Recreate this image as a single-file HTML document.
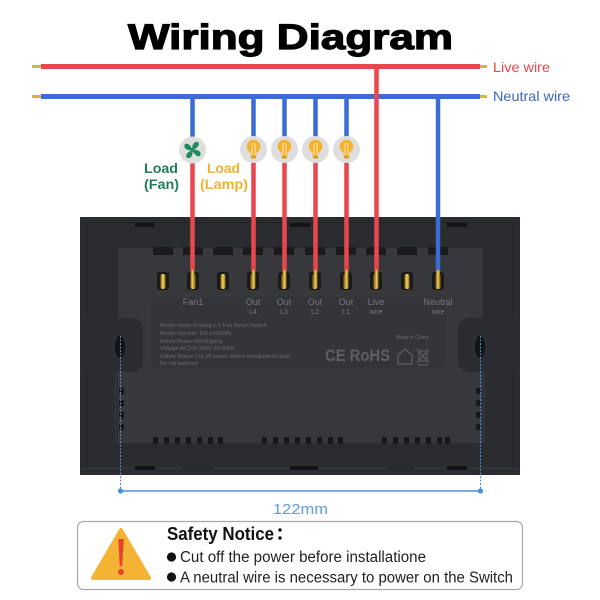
<!DOCTYPE html>
<html><head><meta charset="utf-8"><style>
html,body{margin:0;padding:0;background:#fff;}
svg{display:block;}
text{font-family:"Liberation Sans","Noto Sans CJK SC",sans-serif;}
</style></head><body>
<svg width="600" height="600" viewBox="0 0 600 600" xmlns="http://www.w3.org/2000/svg">
<defs>
<linearGradient id="gold" x1="0" x2="1" y1="0" y2="0">
<stop offset="0" stop-color="#8a6510"/><stop offset="0.5" stop-color="#f3d466"/><stop offset="1" stop-color="#8a6510"/>
</linearGradient>
</defs>
<rect width="600" height="600" fill="#fff"/>

<!-- Title -->
<text x="128" y="49" font-size="35" font-weight="bold" fill="#000" stroke="#000" stroke-width="1.2" textLength="325" lengthAdjust="spacingAndGlyphs">Wiring Diagram</text>

<!-- Switch body -->
<rect x="80" y="217" width="440" height="258" fill="#2b2c30"/>
<rect x="86.5" y="222.5" width="427" height="246" fill="none" stroke="#222326" stroke-width="1"/>
<!-- top notches -->
<rect x="135" y="223" width="19" height="4" fill="#141416"/>
<rect x="290" y="223" width="20" height="4" fill="#141416"/>
<rect x="447" y="223" width="20" height="4" fill="#141416"/>
<!-- inner panel -->
<rect x="118" y="248" width="365" height="195" fill="#37383c"/>
<!-- cutouts around holes -->
<rect x="96" y="318" width="47" height="54" rx="11" fill="#2b2c30"/>
<rect x="458" y="318" width="47" height="54" rx="11" fill="#2b2c30"/>
<rect x="80" y="318" width="38" height="54" fill="#2b2c30"/>
<rect x="483" y="318" width="37" height="54" fill="#2b2c30"/>
<!-- label plate -->
<rect x="149" y="296" width="297" height="73" rx="8" fill="#343539" stroke="#3d3e42" stroke-width="0.6"/>
<!-- top slots -->
<g fill="#1b1b1d">
<rect x="153" y="247" width="20" height="8"/><rect x="183" y="247" width="20" height="8"/>
<rect x="213" y="247" width="20" height="8"/><rect x="243" y="247" width="20" height="8"/>
<rect x="274" y="247" width="20" height="8"/><rect x="305" y="247" width="20" height="8"/>
<rect x="336" y="247" width="20" height="8"/><rect x="366" y="247" width="20" height="8"/>
<rect x="397" y="247" width="20" height="8"/><rect x="428" y="247" width="20" height="8"/>
</g>
<!-- terminals -->
<g>
<rect x="157" y="272" width="12" height="18" rx="3" fill="#1a1a1b"/><rect x="160.5" y="274" width="5" height="15" rx="2" fill="url(#gold)"/>
<rect x="187" y="272" width="12" height="18" rx="3" fill="#1a1a1b"/><rect x="190.5" y="274" width="5" height="15" rx="2" fill="url(#gold)"/>
<rect x="217" y="272" width="12" height="18" rx="3" fill="#1a1a1b"/><rect x="220.5" y="274" width="5" height="15" rx="2" fill="url(#gold)"/>
<rect x="247" y="272" width="12" height="18" rx="3" fill="#1a1a1b"/><rect x="250.5" y="274" width="5" height="15" rx="2" fill="url(#gold)"/>
<rect x="278" y="272" width="12" height="18" rx="3" fill="#1a1a1b"/><rect x="281.5" y="274" width="5" height="15" rx="2" fill="url(#gold)"/>
<rect x="309" y="272" width="12" height="18" rx="3" fill="#1a1a1b"/><rect x="312.5" y="274" width="5" height="15" rx="2" fill="url(#gold)"/>
<rect x="340" y="272" width="12" height="18" rx="3" fill="#1a1a1b"/><rect x="343.5" y="274" width="5" height="15" rx="2" fill="url(#gold)"/>
<rect x="370" y="272" width="12" height="18" rx="3" fill="#1a1a1b"/><rect x="373.5" y="274" width="5" height="15" rx="2" fill="url(#gold)"/>
<rect x="401" y="272" width="12" height="18" rx="3" fill="#1a1a1b"/><rect x="404.5" y="274" width="5" height="15" rx="2" fill="url(#gold)"/>
<rect x="432" y="272" width="12" height="18" rx="3" fill="#1a1a1b"/><rect x="435.5" y="274" width="5" height="15" rx="2" fill="url(#gold)"/>
</g>
<!-- terminal labels -->
<g font-size="9" fill="#76777c" text-anchor="middle">
<text x="193" y="305">Fan1</text>
<text x="253" y="305">Out</text><text x="253" y="314" font-size="7">L4</text>
<text x="284" y="305">Out</text><text x="284" y="314" font-size="7">L3</text>
<text x="315" y="305">Out</text><text x="315" y="314" font-size="7">L2</text>
<text x="346" y="305">Out</text><text x="346" y="314" font-size="7">L1</text>
<text x="376" y="305">Live</text><text x="376" y="314" font-size="7">wire</text>
<text x="438" y="305">Neutral</text><text x="438" y="314" font-size="7">wire</text>
</g>
<!-- spec text -->
<g font-size="5.6" fill="#6a6b70">
<text x="160" y="327">Model Name:4 Gang + 1 Fan Smart Switch</text>
<text x="160" y="335">Model Number: DS-1430WN</text>
<text x="160" y="343">Rated Power:600W/gang</text>
<text x="160" y="350">Voltage:AC100-250V 50-60Hz</text>
<text x="160" y="358">Safety Notice:Cut off power before installation/Install</text>
<text x="160" y="365">Do not wet/sed</text>
<text x="396" y="339" font-size="5">Made in China</text>
</g>
<text x="325" y="361" font-size="17" font-weight="bold" fill="#5e5f64" textLength="65" lengthAdjust="spacingAndGlyphs">CE RoHS</text>
<path d="M398 364 L398 355 L405 349 L412 355 L412 364 Z" fill="none" stroke="#5e5f64" stroke-width="1.2"/>
<g stroke="#5e5f64" stroke-width="1.1" fill="none">
<rect x="419" y="351" width="8" height="10"/><line x1="417" y1="349" x2="429" y2="363"/><line x1="429" y1="349" x2="417" y2="363"/><line x1="418" y1="365" x2="428" y2="365"/>
</g>
<!-- holes -->
<ellipse cx="120" cy="347" rx="6" ry="12" fill="#141416" stroke="#3a3b3f" stroke-width="0.8"/>
<ellipse cx="480" cy="347" rx="6" ry="12" fill="#141416" stroke="#3a3b3f" stroke-width="0.8"/>
<!-- side vents -->
<g fill="#18181a">
<rect x="119" y="388" width="5" height="6"/><rect x="119" y="400" width="5" height="6"/><rect x="119" y="412" width="5" height="6"/><rect x="119" y="424" width="5" height="6"/>
<rect x="476" y="388" width="5" height="6"/><rect x="476" y="400" width="5" height="6"/><rect x="476" y="412" width="5" height="6"/><rect x="476" y="424" width="5" height="6"/>
</g>
<rect x="115.5" y="372.5" width="12" height="70" rx="3" fill="none" stroke="#3e3f43" stroke-width="0.7"/>
<rect x="472.5" y="372.5" width="12" height="70" rx="3" fill="none" stroke="#3e3f43" stroke-width="0.7"/>
<!-- bottom vents -->
<g fill="#18181a">
<rect x="153" y="437" width="5" height="7"/><rect x="164" y="437" width="5" height="7"/><rect x="175" y="437" width="5" height="7"/><rect x="186" y="437" width="5" height="7"/><rect x="197" y="437" width="5" height="7"/><rect x="208" y="437" width="5" height="7"/><rect x="218" y="437" width="5" height="7"/>
<rect x="262" y="437" width="5" height="7"/><rect x="273" y="437" width="5" height="7"/><rect x="284" y="437" width="5" height="7"/><rect x="295" y="437" width="5" height="7"/><rect x="306" y="437" width="5" height="7"/><rect x="317" y="437" width="5" height="7"/><rect x="328" y="437" width="5" height="7"/><rect x="338" y="437" width="5" height="7"/>
<rect x="382" y="437" width="5" height="7"/><rect x="393" y="437" width="5" height="7"/><rect x="404" y="437" width="5" height="7"/><rect x="415" y="437" width="5" height="7"/><rect x="426" y="437" width="5" height="7"/><rect x="437" y="437" width="5" height="7"/><rect x="445" y="437" width="5" height="7"/>
</g>
<!-- bottom strip -->
<g stroke="#3b3c40" stroke-width="1">
<line x1="81" y1="468.5" x2="183" y2="468.5"/><line x1="213" y1="468.5" x2="388" y2="468.5"/><line x1="415" y1="468.5" x2="519" y2="468.5"/>
</g>
<g fill="#141416">
<rect x="135" y="466" width="20" height="4"/><rect x="290" y="466" width="28" height="4"/><rect x="447" y="466" width="20" height="4"/>
</g>

<!-- Main wires -->
<rect x="32" y="65" width="10" height="3" fill="#d9b23e"/>
<rect x="479" y="65" width="8" height="3" fill="#d9b23e"/>
<rect x="41" y="64" width="439" height="5" fill="#e8474d"/>
<rect x="32" y="95" width="10" height="3" fill="#d9b23e"/>
<rect x="479" y="95" width="8" height="3" fill="#d9b23e"/>
<rect x="41" y="94" width="439" height="5" fill="#3a6cd2"/>

<!-- neutral drops -->
<g stroke="#3a6cd2" stroke-width="4.5">
<line x1="192.5" y1="96" x2="192.5" y2="145"/>
<line x1="253.5" y1="96" x2="253.5" y2="145"/>
<line x1="284.5" y1="96" x2="284.5" y2="145"/>
<line x1="315.5" y1="96" x2="315.5" y2="145"/>
<line x1="346.5" y1="96" x2="346.5" y2="145"/>
<line x1="438" y1="96" x2="438" y2="271"/>
</g>
<!-- red drops -->
<g stroke="#e8474d" stroke-width="4.5">
<line x1="192.5" y1="155" x2="192.5" y2="271"/>
<line x1="253.5" y1="155" x2="253.5" y2="271"/>
<line x1="284.5" y1="155" x2="284.5" y2="271"/>
<line x1="315.5" y1="155" x2="315.5" y2="271"/>
<line x1="346.5" y1="155" x2="346.5" y2="271"/>
<line x1="376.5" y1="66" x2="376.5" y2="271"/>
</g>
<!-- wire gold tips at terminals -->
<g fill="url(#gold)">
<rect x="190.5" y="270" width="4" height="18" rx="1"/>
<rect x="251.5" y="270" width="4" height="18" rx="1"/>
<rect x="282.5" y="270" width="4" height="18" rx="1"/>
<rect x="313.5" y="270" width="4" height="18" rx="1"/>
<rect x="344.5" y="270" width="4" height="18" rx="1"/>
<rect x="374.5" y="270" width="4" height="18" rx="1"/>
<rect x="436" y="270" width="4" height="18" rx="1"/>
</g>

<!-- Icons -->
<circle cx="192.5" cy="150" r="13.5" fill="#dedede"/>
<g transform="translate(192.5,150)" fill="#1f8a5c">
<path d="M0 0 C-1 -4 1 -9 5 -8 C8 -7 6 -2 0 0 Z"/>
<path d="M0 0 C-1 -4 1 -9 5 -8 C8 -7 6 -2 0 0 Z" transform="rotate(90)"/>
<path d="M0 0 C-1 -4 1 -9 5 -8 C8 -7 6 -2 0 0 Z" transform="rotate(180)"/>
<path d="M0 0 C-1 -4 1 -9 5 -8 C8 -7 6 -2 0 0 Z" transform="rotate(270)"/>
<circle r="1.8"/>
</g>
<g id="lamps">
<circle cx="253.5" cy="149.5" r="13.5" fill="#dedede"/>
<circle cx="284.5" cy="149.5" r="13.5" fill="#dedede"/>
<circle cx="315.5" cy="149.5" r="13.5" fill="#dedede"/>
<circle cx="346.5" cy="149.5" r="13.5" fill="#dedede"/>
</g>
<g fill="#f4b22d">
<circle cx="253.5" cy="146.5" r="6.8"/><rect x="250.5" y="150" width="6" height="6" rx="1"/>
<circle cx="284.5" cy="146.5" r="6.8"/><rect x="281.5" y="150" width="6" height="6" rx="1"/>
<circle cx="315.5" cy="146.5" r="6.8"/><rect x="312.5" y="150" width="6" height="6" rx="1"/>
<circle cx="346.5" cy="146.5" r="6.8"/><rect x="343.5" y="150" width="6" height="6" rx="1"/>
</g>
<g fill="#d89a1a">
<rect x="251" y="156" width="5" height="2.5" rx="1"/><rect x="282" y="156" width="5" height="2.5" rx="1"/><rect x="313" y="156" width="5" height="2.5" rx="1"/><rect x="344" y="156" width="5" height="2.5" rx="1"/>
</g>
<g stroke="#fff3d0" stroke-width="0.8" fill="none">
<path d="M252 155 V145 Q253.5 142 255 145 V155"/>
<path d="M283 155 V145 Q284.5 142 286 145 V155"/>
<path d="M314 155 V145 Q315.5 142 317 145 V155"/>
<path d="M345 155 V145 Q346.5 142 348 145 V155"/>
</g>

<!-- Load labels -->
<text x="144" y="173" font-size="14" font-weight="bold" fill="#1f7d58" textLength="34" lengthAdjust="spacingAndGlyphs">Load</text>
<text x="144" y="189" font-size="14" font-weight="bold" fill="#1f7d58" textLength="35" lengthAdjust="spacingAndGlyphs">(Fan)</text>
<text x="207" y="173" font-size="14" font-weight="bold" fill="#f0b22e" textLength="33" lengthAdjust="spacingAndGlyphs">Load</text>
<text x="200" y="189" font-size="14" font-weight="bold" fill="#f0b22e" textLength="48" lengthAdjust="spacingAndGlyphs">(Lamp)</text>

<!-- wire labels -->
<text x="493" y="72" font-size="14" fill="#e4474e" textLength="57" lengthAdjust="spacingAndGlyphs">Live wire</text>
<text x="493" y="101" font-size="14" fill="#3b66c0" textLength="77" lengthAdjust="spacingAndGlyphs">Neutral wire</text>

<!-- Dimension -->
<g stroke="#4a8fe0" stroke-width="1" stroke-dasharray="2 1.5">
<line x1="120.5" y1="336" x2="120.5" y2="491"/>
<line x1="480.5" y1="336" x2="480.5" y2="491"/>
</g>
<line x1="120" y1="491" x2="481" y2="491" stroke="#4a8fe0" stroke-width="1.5"/>
<circle cx="120.5" cy="491" r="2.6" fill="#4a8fe0"/>
<circle cx="480.5" cy="491" r="2.6" fill="#4a8fe0"/>
<text x="273" y="514" font-size="15" fill="#5b9de0" textLength="55" lengthAdjust="spacingAndGlyphs">122mm</text>

<!-- Safety notice -->
<rect x="77.5" y="521.5" width="445" height="68" rx="6" fill="#fff" stroke="#a8a8a8" stroke-width="1.2"/>
<polygon points="121,530 149,578 93,578" fill="#f5b335" stroke="#f5b335" stroke-width="4" stroke-linejoin="round"/>
<path d="M118.2 539 L123.8 539 L122.2 566 L119.8 566 Z" fill="#e3432f"/>
<circle cx="121" cy="572" r="3" fill="#e3432f"/>
<text x="167" y="540" font-size="18" font-weight="bold" fill="#111" textLength="107" lengthAdjust="spacingAndGlyphs">Safety Notice</text>
<circle cx="280" cy="530" r="1.7" fill="#111"/>
<circle cx="280" cy="538" r="1.7" fill="#111"/>
<circle cx="171.5" cy="557" r="4.6" fill="#111"/>
<circle cx="171.5" cy="577" r="4.6" fill="#111"/>
<text x="180" y="562" font-size="15.5" fill="#222" textLength="246" lengthAdjust="spacingAndGlyphs">Cut off the power before installatione</text>
<text x="180" y="582.5" font-size="15.5" fill="#222" textLength="333" lengthAdjust="spacingAndGlyphs">A neutral wire is necessary to power on the Switch</text>
</svg>
</body></html>
